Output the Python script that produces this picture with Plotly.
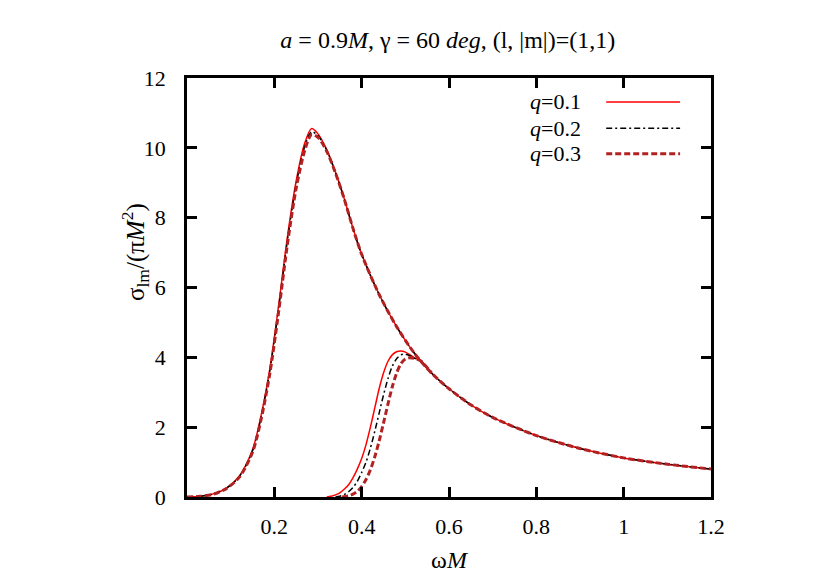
import plotly.graph_objects as go

# main (large) resonance branch, omega*M
w_big = [0.0, 0.03, 0.06, 0.09, 0.12, 0.15, 0.17, 0.19, 0.21, 0.23, 0.25, 0.27, 0.285,
         0.30, 0.32, 0.34, 0.36, 0.38, 0.40, 0.44, 0.48, 0.52, 0.56, 0.60, 0.65, 0.70,
         0.80, 0.90, 1.00, 1.10, 1.20]
big_q1 = [0.0, 0.02, 0.09, 0.25, 0.6, 1.35, 2.35, 3.7, 5.5, 7.45, 9.05, 10.15, 10.55,
          10.4, 9.95, 9.3, 8.55, 7.7, 6.95, 5.8, 4.88, 4.13, 3.55, 3.1, 2.64, 2.28,
          1.76, 1.39, 1.12, 0.94, 0.80]
big_q2 = [0.0, 0.02, 0.09, 0.25, 0.59, 1.32, 2.3, 3.64, 5.42, 7.35, 8.95, 10.05, 10.46,
          10.35, 9.93, 9.3, 8.55, 7.7, 6.95, 5.8, 4.88, 4.13, 3.55, 3.1, 2.64, 2.28,
          1.76, 1.39, 1.12, 0.94, 0.80]
big_q3 = [0.0, 0.02, 0.08, 0.24, 0.57, 1.28, 2.24, 3.56, 5.32, 7.24, 8.84, 9.94, 10.38,
          10.3, 9.9, 9.28, 8.54, 7.7, 6.95, 5.8, 4.88, 4.13, 3.55, 3.1, 2.64, 2.28,
          1.76, 1.39, 1.12, 0.94, 0.80]

# second (small) resonance branch
w_small_q1 = [0.32, 0.33, 0.34, 0.35, 0.36, 0.37, 0.38, 0.39, 0.40, 0.41, 0.42, 0.43, 0.44,
              0.45, 0.46, 0.47, 0.48, 0.49, 0.50, 0.51, 0.52, 0.535, 0.56]
small_q1 = [0.0, 0.02, 0.06, 0.12, 0.22, 0.35, 0.55, 0.8, 1.1, 1.5, 2.0, 2.55, 3.1,
            3.55, 3.88, 4.07, 4.16, 4.18, 4.15, 4.08, 3.99, 3.9, 3.55]
w_small_q2 = [0.34, 0.35, 0.36, 0.37, 0.38, 0.39, 0.40, 0.41, 0.42, 0.43, 0.44, 0.45, 0.46,
              0.47, 0.48, 0.49, 0.50, 0.51, 0.52, 0.535, 0.56]
small_q2 = [0.0, 0.02, 0.07, 0.15, 0.27, 0.45, 0.7, 1.0, 1.4, 1.88, 2.4, 2.92, 3.38,
            3.74, 3.96, 4.07, 4.09, 4.05, 3.98, 3.9, 3.55]
w_small_q3 = [0.355, 0.37, 0.38, 0.39, 0.40, 0.41, 0.42, 0.43, 0.44, 0.45, 0.46, 0.47, 0.48,
              0.49, 0.50, 0.51, 0.52, 0.535, 0.56]
small_q3 = [0.0, 0.03, 0.08, 0.16, 0.3, 0.5, 0.78, 1.15, 1.6, 2.12, 2.65, 3.15, 3.55,
            3.82, 3.95, 3.99, 3.97, 3.9, 3.55]

labels = ["<i>q</i>=0.1", "<i>q</i>=0.2", "<i>q</i>=0.3"]
x_ticks = [0.2, 0.4, 0.6, 0.8, 1.0, 1.2]
x_ticktext = ["0.2", "0.4", "0.6", "0.8", "1", "1.2"]
y_ticks = [0, 2, 4, 6, 8, 10, 12]

FONT = "Liberation Serif"
FS = 22
styles = [
    dict(color="#ff0000", width=1.5, dash="solid"),
    dict(color="#000000", width=1.5, dash="6px,3px,2px,3px"),
    dict(color="#b22222", width=3, dash="6px,3px"),
]

series = [
    (w_big, big_q1, w_small_q1, small_q1),
    (w_big, big_q2, w_small_q2, small_q2),
    (w_big, big_q3, w_small_q3, small_q3),
]

fig = go.Figure()
for (wb, vb, ws, vs), st, name in zip(series, styles, labels):
    for xx, yy in ((wb, vb), (ws, vs)):
        fig.add_trace(go.Scatter(
            x=xx, y=yy, mode="lines", name=name, showlegend=False,
            line=dict(color=st["color"], width=st["width"], dash=st["dash"],
                      shape="spline", smoothing=0.8),
        ))

# gnuplot-style key: text on the left, line sample on the right
key_y = [0.943, 0.880, 0.819]
for name, st, ky in zip(labels, styles, key_y):
    fig.add_annotation(x=0.756, y=ky, xref="paper", yref="paper", text=name,
                       showarrow=False, xanchor="right", yanchor="middle",
                       font=dict(family=FONT, size=FS, color="black"))
    fig.add_shape(type="line", xref="paper", yref="paper", x0=0.800, x1=0.941,
                  y0=ky, y1=ky,
                  line=dict(color=st["color"], width=st["width"], dash=st["dash"]))

# y-axis label, placed like gnuplot's ylabel
fig.add_annotation(x=-0.099, y=0.585, xref="paper", yref="paper",
                   text="σ<sub>lm</sub>/(π<i>M</i><sup>2</sup>)", textangle=-90,
                   showarrow=False, xanchor="center", yanchor="middle",
                   font=dict(family=FONT, size=25, color="black"))

# page body adds an 8px margin, so the figure is 8px smaller than the window
fig.update_layout(
    width=822, height=574,
    margin=dict(l=179, r=119, t=70, b=85),
    paper_bgcolor="white", plot_bgcolor="white",
    font=dict(family=FONT, size=FS, color="black"),
    title=dict(text="<i>a</i> = 0.9<i>M</i>, γ = 60 <i>deg</i>, (l, |m|)=(1,1)",
               x=0.535, xanchor="center", y=0.945, yanchor="middle",
               font=dict(family=FONT, size=24)),
)
fig.update_xaxes(
    range=[0, 1.2], tickvals=x_ticks, ticktext=x_ticktext,
    showline=True, linecolor="black", linewidth=2.5, mirror="ticks",
    ticks="inside", ticklen=10, tickwidth=2.5, tickcolor="black",
    ticklabelstandoff=8,
    showgrid=False, zeroline=False,
    title=dict(text="ω<i>M</i>", standoff=14, font=dict(family=FONT, size=24)),
)
fig.update_yaxes(
    range=[0, 12], tickvals=y_ticks,
    showline=True, linecolor="black", linewidth=2.5, mirror="ticks",
    ticks="inside", ticklen=10, tickwidth=2.5, tickcolor="black",
    ticklabelstandoff=14,
    showgrid=False, zeroline=False,
)

fig.write_html("out.html")
